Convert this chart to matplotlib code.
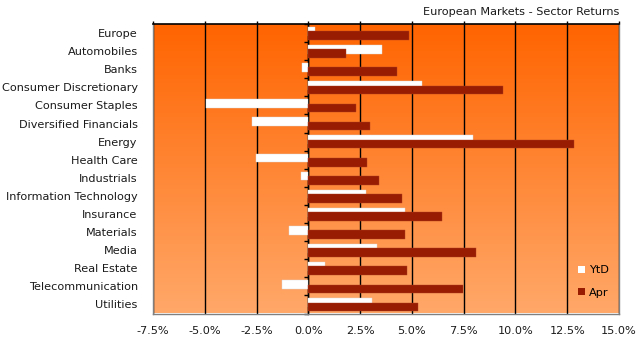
import numpy as np
import matplotlib
matplotlib.use("Agg")
import matplotlib.pyplot as plt
from matplotlib.colors import LinearSegmentedColormap
from matplotlib.patches import Patch

plt.rcParams['font.family'] = ['DejaVu Sans']

sectors = ["Europe", "Automobiles", "Banks", "Consumer Discretionary",
           "Consumer Staples", "Diversified Financials", "Energy", "Health Care",
           "Industrials", "Information Technology", "Insurance", "Materials",
           "Media", "Real Estate", "Telecommunication", "Utilities"]
ytd = [0.30, 3.54, -0.29, 5.51, -4.93, -2.74, 7.96, -2.55,
       -0.34, 2.79, 4.69, -0.95, 3.30, 0.79, -1.26, 3.09]
apr = [4.88, 1.80, 4.27, 9.39, 2.32, 2.98, 12.82, 2.83,
       3.40, 4.53, 6.43, 4.67, 8.10, 4.78, 7.46, 5.28]
xticks = [-7.5, -5.0, -2.5, 0.0, 2.5, 5.0, 7.5, 10.0, 12.5, 15.0]
title = "European Markets - Sector Returns"

FS = 8.1
W, H, DPI = 637, 339, 100
fig = plt.figure(figsize=(W / DPI, H / DPI), dpi=DPI)
ax = fig.add_axes([153 / W, 1 - 313.5 / H, (619 - 153) / W, (313.5 - 24) / H])

xmin, xmax = xticks[0], xticks[-1]
n = len(sectors)
ax.set_xlim(xmin, xmax)
ax.set_ylim(n - 0.5, -0.5)

# vertical orange gradient behind the bars
grad = LinearSegmentedColormap.from_list("bg", ["#FF6400", "#FFA869"])
ax.imshow(np.linspace(0, 1, 256).reshape(-1, 1), cmap=grad, aspect="auto",
          extent=(xmin, xmax, n - 0.5, -0.5), zorder=0, interpolation="bilinear")

# gridlines
ax.set_xticks(xticks)
ax.grid(axis="x", color="black", linewidth=1.0, zorder=1)
ax.grid(axis="y", visible=False)

y = np.arange(n)
h = 0.48
ax.barh(y - 0.10, ytd, height=h, color="white", zorder=2,
        edgecolor="#D9D9D9", linewidth=0.3)
ax.barh(y + 0.14, apr, height=h, color="#981C02", zorder=3,
        edgecolor="#B04020", linewidth=0.3)

# x labels at bottom, ticks on top spine
ax.xaxis.set_major_formatter(matplotlib.ticker.FuncFormatter(lambda v, p: f"{v:.1f}%"))
ax.tick_params(axis="x", top=True, bottom=False, labelbottom=True, labeltop=False,
               direction="out", length=2.5, width=1, color="black",
               labelsize=FS, pad=6.5, labelcolor="#1A1A1A")

ax.set_yticks(y)
ax.set_yticklabels(sectors)
ax.tick_params(axis="y", left=False, labelsize=FS, pad=7.5, labelcolor="#1A1A1A")

for side in ("left", "bottom", "right"):
    ax.spines[side].set_color("#808080")
    ax.spines[side].set_linewidth(1.0)
ax.spines["top"].set_color("black")
ax.spines["top"].set_linewidth(1.2)

# category axis through zero with boundary ticks
zero_frac = (0 - xmin) / (xmax - xmin)
sec = ax.secondary_yaxis(zero_frac)
sec.set_yticks(np.arange(n + 1) - 0.5)
sec.set_yticklabels([])
sec.tick_params(axis="y", direction="out", length=3, width=1, color="black")
sec.spines["left"].set_color("black")
sec.spines["left"].set_linewidth(1.0)

fig.text(619 / W, 1 - 12 / H, title, ha="right", va="center",
         fontsize=FS, color="#1A1A1A")

handles = [Patch(facecolor="white", edgecolor="none"),
           Patch(facecolor="#981C02", edgecolor="none")]
ax.legend(handles, ["YtD", "Apr"], loc="lower right", frameon=False,
          fontsize=FS, handlelength=0.6, handleheight=0.6, handletextpad=0.4,
          labelspacing=1.1, bbox_to_anchor=(1.0, 0.02))

fig.savefig("out.png", dpi=DPI)
